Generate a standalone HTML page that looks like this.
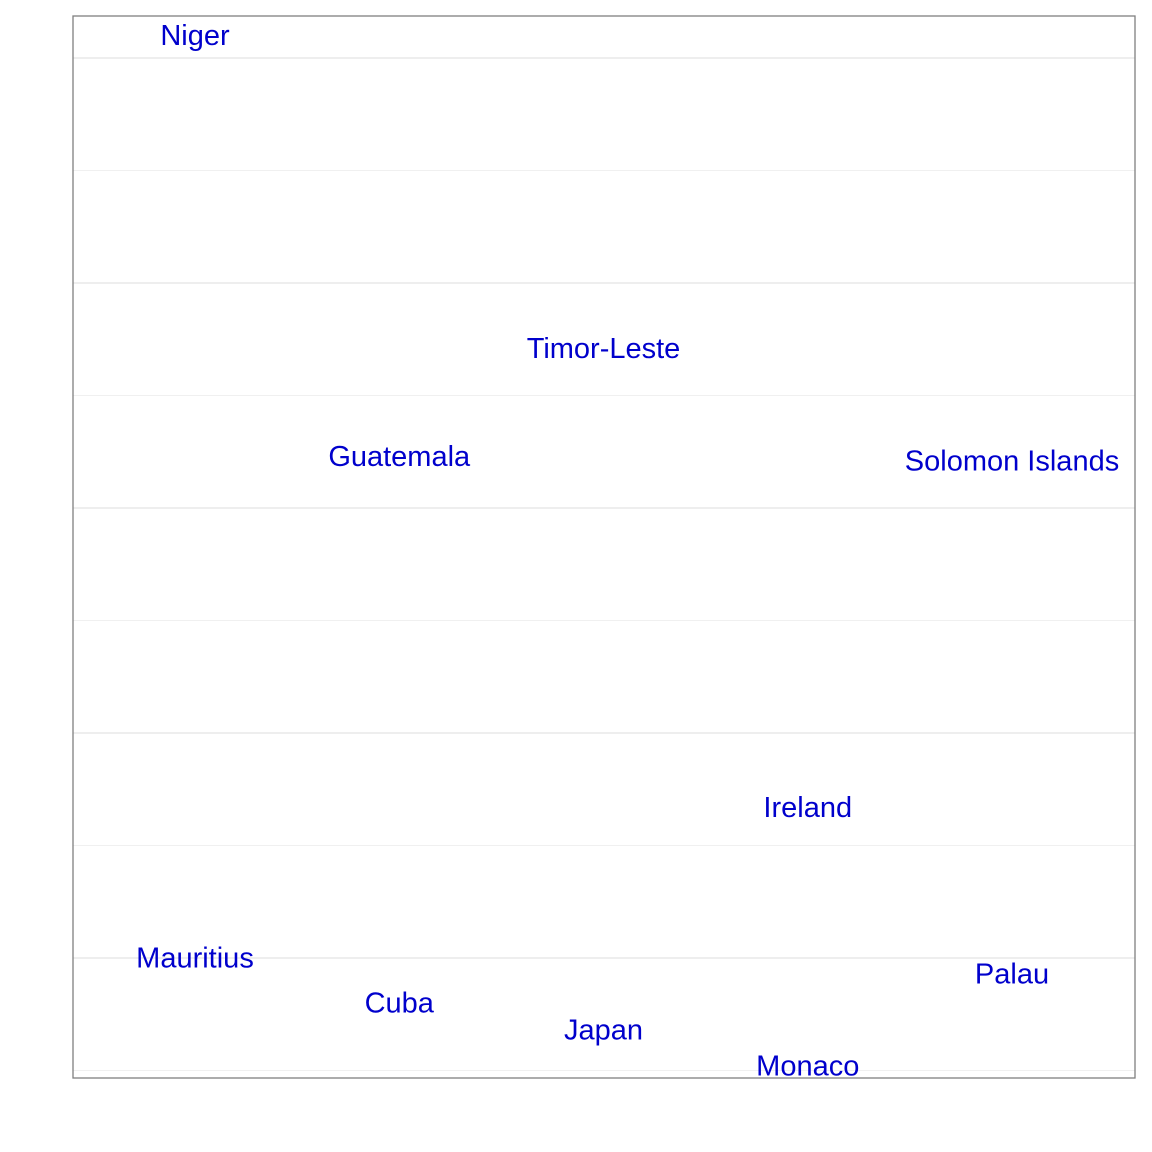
<!DOCTYPE html>
<html><head><meta charset="utf-8"><style>
body{margin:0;background:#fff}
svg{display:block}
text{font-family:"Liberation Sans",sans-serif;font-size:29px;fill:#0000cc}
</style></head><body>
<svg width="1152" height="1152">
<rect x="0" y="0" width="1152" height="1152" fill="#fff"/>
<g id="grid"></g>
<g id="labels"></g>
<rect x="73" y="16" width="1062" height="1062" fill="none" stroke="#7f7f7f" stroke-width="1.3"/>
</svg>
<script>
const countries=["Niger","Timor-Leste","Guatemala","Solomon Islands","Ireland","Mauritius","Cuba","Japan","Monaco","Palau"];
const xPos=[1,3,2,5,4,1,2,3,4,5];
const yVals=[4.10,2.71,2.23,2.21,0.67,0.0,-0.20,-0.32,-0.48,-0.07];
const majorTicks=[0,1,2,3,4];
const minorTicks=[-0.5,0.5,1.5,2.5,3.5];
const xs=v=>195+(v-1)*204.25;
const ys=v=>958-v*225;
const ns="http://www.w3.org/2000/svg";
const g=document.getElementById('grid');
minorTicks.forEach(t=>{const l=document.createElementNS(ns,'line');
l.setAttribute('x1',73);l.setAttribute('x2',1135);l.setAttribute('y1',ys(t));l.setAttribute('y2',ys(t));
l.setAttribute('stroke','#f0f0f0');l.setAttribute('stroke-width','1');


g.appendChild(l);});
majorTicks.forEach(t=>{const l=document.createElementNS(ns,'line');
l.setAttribute('x1',73);l.setAttribute('x2',1135);l.setAttribute('y1',ys(t));l.setAttribute('y2',ys(t));
l.setAttribute('stroke','#e3e3e3');l.setAttribute('stroke-width','1.2');


g.appendChild(l);});
const lg=document.getElementById('labels');
countries.forEach((c,i)=>{const t=document.createElementNS(ns,'text');
t.setAttribute('x',xs(xPos[i]));t.setAttribute('y',ys(yVals[i])+9.5);
t.setAttribute('text-anchor','middle');t.textContent=c;


lg.appendChild(t);});
</script>
</body></html>
